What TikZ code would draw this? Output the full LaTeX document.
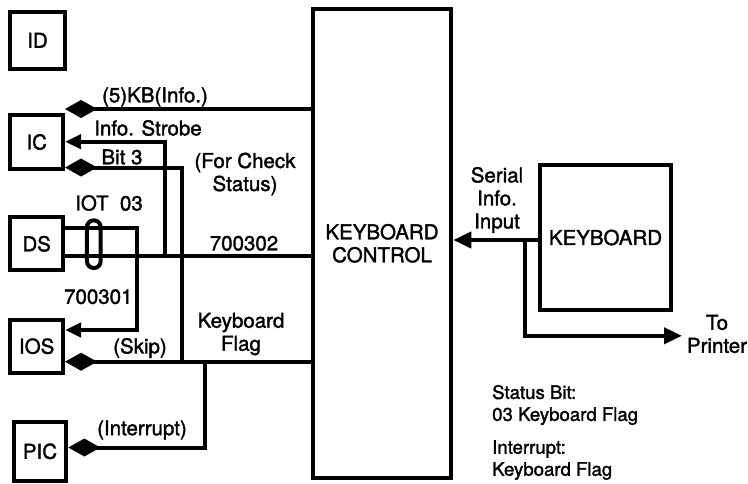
\documentclass[tikz,border=0pt]{standalone}
\usepackage{fontspec}
\setmainfont{TeX Gyre Heros}[FakeBold=1.6]
\usetikzlibrary{arrows.meta,calc}
\begin{document}
\begin{tikzpicture}[x=1pt,y=1pt,
  box/.style={draw, line width=4pt, minimum width=52.7pt, minimum height=53.3pt, inner sep=0pt,
              font=\fontsize{20.5}{23}\selectfont},
  wire/.style={line width=4pt},
  lbl/.style={inner sep=0pt, align=center, font=\fontsize{20.5}{23}\selectfont},
  note/.style={inner sep=0pt, align=left, anchor=west, font=\fontsize{18.6}{22}\selectfont},
  dia/.style={wire,-{Diamond[length=32pt,width=18pt]}},
  tri/.style={wire,-{Triangle[length=16pt,width=14pt]}},
  bigtri/.style={wire,-{Triangle[length=18pt,width=16pt]}},
]
\useasboundingbox (0,0) rectangle (748,-483);

% boxes
\node[box, minimum width=54.4pt, minimum height=56.7pt] (ID) at (37.5,-40.3) {ID};
\node[box] (IC) at (36.7,-142) {IC};
\node[box] (DS) at (36.7,-243.8) {DS};
\node[box] (IOS) at (36.7,-346.2) {IOS};
\node[box, minimum height=58.7pt] (PIC) at (40,-451.3) {PIC};
\node[box, minimum width=138.6pt, minimum height=469.3pt, align=center] (KC) at (382,-243.3) {KEYBOARD\\CONTROL};
\node[box, minimum width=130.4pt, minimum height=144.4pt] (KB) at (605.5,-237.5) {\raisebox{-4.5pt}{KEYBOARD}};

% IOT 03 oval
\node[draw, line width=4pt, minimum width=13.7pt, minimum height=47.7pt, inner sep=0pt,
      rounded corners=6.8pt] (oval) at (93.8,-244.2) {};

% junction coordinates
\coordinate (jStrobe) at (164.7,-256);
\coordinate (jBit) at (182,-361.7);
\coordinate (jInt) at (205.3,-361.7);
\coordinate (jSer) at (525.3,-240);
\coordinate (printer) at (682,-335.8);

% connectors
\draw[dia] (KC.west |- 0,-109) -- (IC.east |- 0,-109);
\draw[tri] (jStrobe) -- (jStrobe |- 0,-141.7) -- (IC.east |- 0,-141.7);
\draw[dia] (jBit) -- (jBit |- 0,-167.5) -- (IC.east |- 0,-167.5);
\draw[tri] (DS.east |- 0,-228.3) -- (137.2,-228.3) -- (137.2,-330) -- (IOS.east |- 0,-330);
\draw[wire] (DS.east |- 0,-256) -- (KC.west |- 0,-256);
\draw[dia] (KC.west |- 0,-361.7) -- (IOS.east |- 0,-361.7);
\draw[dia] (jInt) -- (jInt |- 0,-447.5) -- (PIC.east |- 0,-447.5);
\draw[bigtri] (KB.west |- 0,-240) -- (KC.east |- 0,-240);
\draw[bigtri] (jSer) -- (jSer |- printer) -- (printer);

% labels
\node[lbl] (l1) at (155,-97) {(5)KB(Info.)};
\node[lbl] (l2) at (148,-128) {Info. Strobe};
\node[lbl] (l3) at (122,-157) {Bit 3};
\node[lbl] (l4) at (245,-174) {(For Check\\Status)};
\node[lbl] (l5) at (109,-203) {IOT\ \ 03};
\node[lbl] (l6) at (244,-243.3) {700302};
\node[lbl] (l7) at (98.3,-296.7) {700301};
\node[lbl] (l8) at (241,-334) {Keyboard\\Flag};
\node[lbl] (l9) at (140,-348) {(Skip)};
\node[lbl] (l10) at (142,-430) {(Interrupt)};
\node[lbl] (l11) at (497,-200) {Serial\\Info.\\Input};
\node[lbl] (l12) at (717,-334) {To\\Printer};
\node[note] (n1) at (492,-405) {Status Bit:\\03 Keyboard Flag};
\node[note] (n2) at (492,-460) {Interrupt:\\Keyboard Flag};
\end{tikzpicture}
\end{document}
